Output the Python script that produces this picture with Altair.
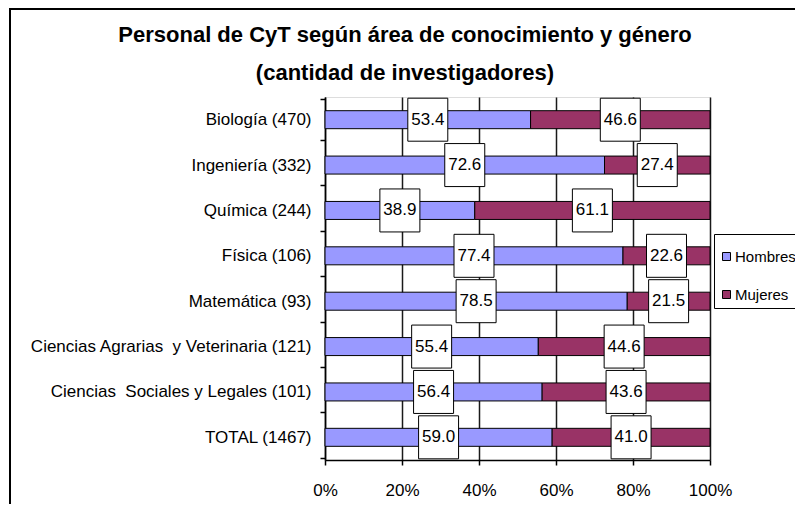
import altair as alt
import pandas as pd

categories = [
    "Biología (470)",
    "Ingeniería (332)",
    "Química (244)",
    "Física (106)",
    "Matemática (93)",
    "Ciencias Agrarias \u00a0y Veterinaria (121)",
    "Ciencias \u00a0Sociales y Legales (101)",
    "TOTAL (1467)",
]
hombres = [53.4, 72.6, 38.9, 77.4, 78.5, 55.4, 56.4, 59.0]
mujeres = [46.6, 27.4, 61.1, 22.6, 21.5, 44.6, 43.6, 41.0]
series = ["Hombres", "Mujeres"]
series_colors = ["#9999FF", "#993366"]
x_ticks = [0, 20, 40, 60, 80, 100]
title_lines = [
    "Personal de CyT según área de conocimiento y género",
    "(cantidad de investigadores)",
]

rows = []
for c, h, m in zip(categories, hombres, mujeres):
    rows.append(dict(cat=c, serie="Hombres", ini=0.0, fin=h, medio=h / 2, etiqueta=f"{h:.1f}"))
    rows.append(dict(cat=c, serie="Mujeres", ini=h, fin=h + m, medio=h + m / 2, etiqueta=f"{m:.1f}"))
df = pd.DataFrame(rows)

FONT = "Liberation Sans, Arial, sans-serif"

y_enc = alt.Y(
    "cat:N",
    sort=categories,
    title=None,
    axis=alt.Axis(
        domainColor="black", domainWidth=1.5, tickColor="black", tickSize=5,
        tickWidth=1.5, tickBand="extent", labelFont=FONT, labelFontSize=17,
        labelColor="black", labelPadding=9, labelLimit=400, grid=False,
    ),
)
x_scale = alt.Scale(domain=[0, 100], nice=False, zero=True)

bars = alt.Chart(df).mark_bar(size=18, stroke="black", strokeWidth=1).encode(
    x=alt.X(
        "ini:Q",
        scale=x_scale,
        title=None,
        axis=alt.Axis(
            values=x_ticks, labelExpr="datum.value + '%'", grid=True,
            gridColor="#1a1a1a", gridWidth=1.5, domainColor="black",
            domainWidth=1.5, tickColor="black", tickSize=5, tickWidth=1.5,
            labelFont=FONT, labelFontSize=17, labelColor="black",
            labelPadding=17, labelFlush=False,
        ),
    ),
    x2="fin:Q",
    y=y_enc,
    color=alt.Color(
        "serie:N",
        scale=alt.Scale(domain=series, range=series_colors),
        legend=alt.Legend(
            title=" ", titleFontSize=6, titlePadding=4,
            orient="none", legendX=389, legendY=137,
            strokeColor="black", fillColor="white", padding=5,
            symbolType="square", symbolSize=64, symbolStrokeColor="black",
            symbolStrokeWidth=1, labelFont=FONT, labelFontSize=15,
            labelColor="black", rowPadding=22, labelOffset=1,
        ),
    ),
)

boxes = alt.Chart(df).mark_point(
    shape="M-0.93,-1H0.93V1H-0.93Z", size=1849, filled=True, fill="white",
    stroke="black", strokeWidth=1, opacity=1,
).encode(x=alt.X("medio:Q", scale=x_scale), y=y_enc)

texts = alt.Chart(df).mark_text(font=FONT, fontSize=17, color="black").encode(
    x=alt.X("medio:Q", scale=x_scale), y=y_enc, text="etiqueta:N"
)

frame = alt.Chart(pd.DataFrame({"k": [0]})).mark_rect(
    fillOpacity=0, stroke="black", strokeWidth=2
).encode(
    x=alt.value(-315), x2=alt.value(480), y=alt.value(-88), y2=alt.value(420)
)

title = alt.Chart(pd.DataFrame({"k": [0]})).mark_text(
    text=title_lines, font=FONT, fontSize=22, fontWeight="bold", color="black",
    align="center", baseline="middle", lineHeight=38,
).encode(x=alt.value(80), y=alt.value(-62))

chart = alt.layer(frame, title, bars, boxes, texts).properties(
    width=385,
    height=363,
    padding={"left": 317, "top": 89, "right": 85, "bottom": 44},
    autosize=alt.AutoSizeParams(type="none"),
).configure_view(fill="#C0C0C0", stroke="#808080").configure(background="white")

chart.save("out.html", embed_options={"renderer": "svg", "actions": False})
